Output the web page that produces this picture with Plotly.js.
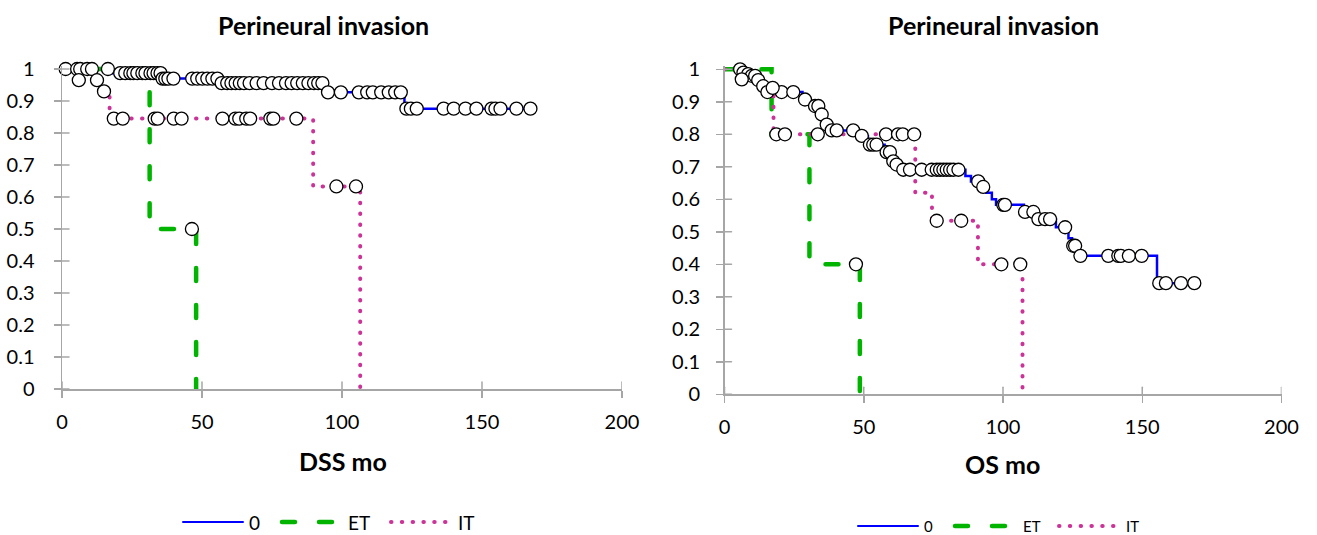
<!DOCTYPE html>
<html>
<head>
<meta charset="utf-8">
<script src="https://cdn.plot.ly/plotly-3.0.1.min.js"></script>
<style>
  html, body { margin: 0; padding: 0; background: #fff; }
  #chart { width: 1317px; height: 535px; }
  .js-line { stroke-linecap: round; }
  .shapelayer path { stroke-linecap: round; }
</style>
</head>
<body>
<div id="chart"></div>
<script>
// ---------- labels ----------
const chartTitle = 'Perineural invasion';
const xTitleLeft = 'DSS mo';
const xTitleRight = 'OS mo';
const groupNames = ['0', 'ET', 'IT'];
const xTicks = [0, 50, 100, 150, 200];
const yTicks = [0, 0.1, 0.2, 0.3, 0.4, 0.5, 0.6, 0.7, 0.8, 0.9, 1];
const yTickText = ['0', '0.1', '0.2', '0.3', '0.4', '0.5', '0.6', '0.7', '0.8', '0.9', '1'];

// ---------- DSS (left) ----------
const dss0Time = [0, 17.5, 35.5, 56.5, 94, 122.3, 167.3];
const dss0Surv = [1, 0.987, 0.97, 0.956, 0.927, 0.876, 0.876];
const dss0Cens = [1.3, 5.4, 6.5, 9, 10.7, 16.4,
  20.8, 22.6, 24.4, 25.5, 26.9, 28.7, 29.8, 31.6, 32.7, 34.1, 35.2,
  35.9, 36.9, 38.0, 39.8, 46.5, 48.3, 50.1, 51.9, 53.7, 55.5,
  57, 59, 60.5, 62, 63.5, 65, 67, 69.5, 72, 75, 77.5, 80, 82, 84, 86, 88, 90, 91.5, 93,
  95, 99.6, 106, 109, 111, 114, 116.7, 119, 121,
  123, 124.6, 126.7, 136.3, 139.9, 144.1, 148, 153.4, 154.8, 156.6, 162.3, 167.3];

const dssETTime = [0, 31.3, 47.9];
const dssETSurv = [1, 0.5, 0];
const dssETCens = [46.4];

const dssITTime = [0, 5, 13.5, 17, 89.7, 106.5];
const dssITSurv = [1, 0.965, 0.93, 0.845, 0.633, 0];
const dssITCens = [6, 12.5, 15, 18.5, 21.7, 33.1, 34.2, 39.9, 42.7, 57.3, 61.9, 63.3, 65.8, 67.2, 74.4, 75.5, 83.7, 98, 105];

// ---------- OS (right) ----------
const os0Time = [0, 6, 8, 9.5, 11.5, 13.5, 15, 28, 31, 34.5, 36.3, 38, 48, 51.5, 57.5, 60.2, 61.4, 63.5,
  86.5, 88.5, 92.5, 94, 96, 97.5, 107.5, 112.3, 119, 123.5, 124.8, 127.3, 155.3, 168.7];
const os0Surv = [1, 0.99, 0.985, 0.98, 0.967, 0.948, 0.93, 0.907, 0.887, 0.861, 0.83, 0.812, 0.795, 0.768, 0.745, 0.717, 0.707, 0.691,
  0.672, 0.655, 0.638, 0.62, 0.6, 0.583, 0.561, 0.539, 0.514, 0.48, 0.457, 0.426, 0.342, 0.342];
const os0Cens = [5.6, 6.8, 8.5, 9.8, 11, 12.1, 13.9, 15.4, 20.5, 24.7, 28.9, 32.5, 33.7, 34.9, 36.7, 38.5, 40.3, 46.2,
  49.3, 52.2, 53.4, 54.6, 58.2, 59.4, 60.6, 61.8, 64.2, 66.6, 70.8, 74.4, 76.2, 77.4, 78.6, 79.8, 81, 82.2, 84,
  91.1, 92.9, 100.1, 100.7, 107.9, 110.9, 112.7, 115.1, 116.9, 122.3, 125.2, 125.9, 127.8,
  137.8, 141.4, 142.3, 145.2, 149.8, 156.1, 158.5, 163.9, 168.7];

const osETTime = [0, 16.9, 30.5, 48.6];
const osETSurv = [1, 0.8, 0.4, 0];
const osETCens = [47.2];

const osITTime = [0, 5.5, 12.5, 17.6, 68.5, 74.5, 91, 107];
const osITSurv = [1, 0.969, 0.943, 0.8, 0.62, 0.534, 0.4, 0];
const osITCens = [6.2, 17.3, 18.6, 21.7, 33.5, 58, 62.3, 64, 68.1, 76.2, 85, 99.4, 106.2];

// ---------- styling ----------
const colors = ['#0000FF', '#00B400', '#CC3399'];
const lineWidths = [2.5, 4.5, 4];
const dashes = ['solid', '13px,24px', '0.5px,10.3px'];
const axisGray = '#A6A6A6';
const FONT = 'Lato, "Open Sans", sans-serif';
const W = 1317, H = 535;
const px = v => v / W;
const py = v => (H - v) / H;

function survAt(times, surv, t) {
  let v = surv[0];
  for (let i = 0; i < times.length; i++) if (times[i] <= t) v = surv[i];
  return v;
}

const traces = [];
function addGroup(times, surv, cens, gi, xa, ya) {
  traces.push({
    type: 'scatter', mode: 'lines', x: times, y: surv, xaxis: xa, yaxis: ya,
    line: { shape: 'hv', color: colors[gi], width: lineWidths[gi], dash: dashes[gi] },
    name: groupNames[gi], showlegend: false, hoverinfo: 'skip'
  });
}
function addCens(times, surv, cens, gi, xa, ya) {
  traces.push({
    type: 'scatter', mode: 'markers', x: cens, y: cens.map(t => survAt(times, surv, t)),
    xaxis: xa, yaxis: ya, cliponaxis: false,
    marker: { symbol: 'circle', size: 13, color: '#FFFFFF', line: { color: '#000000', width: 1.3 } },
    name: groupNames[gi] + ' censored', showlegend: false, hoverinfo: 'skip'
  });
}
const left = [[dss0Time, dss0Surv, dss0Cens], [dssETTime, dssETSurv, dssETCens], [dssITTime, dssITSurv, dssITCens]];
const right = [[os0Time, os0Surv, os0Cens], [osETTime, osETSurv, osETCens], [osITTime, osITSurv, osITCens]];
left.forEach((g, i) => addGroup(g[0], g[1], g[2], i, 'x', 'y'));
right.forEach((g, i) => addGroup(g[0], g[1], g[2], i, 'x2', 'y2'));
left.forEach((g, i) => addCens(g[0], g[1], g[2], i, 'x', 'y'));
right.forEach((g, i) => addCens(g[0], g[1], g[2], i, 'x2', 'y2'));

function xAxis(domain, anchor) {
  return {
    domain: domain, anchor: anchor, range: [0, 200], tickmode: 'array', tickvals: xTicks,
    ticktext: xTicks.map(String), ticks: 'outside', ticklen: 7, tickwidth: 1.5, tickcolor: axisGray,
    showline: true, linecolor: axisGray, linewidth: 1.5, showgrid: false, zeroline: false,
    tickfont: { family: FONT, size: 20, color: '#000' }, ticklabelstandoff: 7, fixedrange: true
  };
}
function yAxis(domain, anchor, standoff) {
  return {
    domain: domain, anchor: anchor, range: [0, 1.01], tickmode: 'array', tickvals: yTicks,
    ticktext: yTickText, ticks: 'outside', ticklen: 7, tickwidth: 1.5, tickcolor: axisGray,
    showline: true, linecolor: axisGray, linewidth: 1.5, showgrid: false, zeroline: false,
    tickfont: { family: FONT, size: 20, color: '#000' }, ticklabelstandoff: standoff, fixedrange: true
  };
}

// inner half of the cross tick marks
const shapes = [];
[['x', 'y'], ['x2', 'y2']].forEach(([xa, ya]) => {
  xTicks.forEach(t => shapes.push({ type: 'line', xref: xa, yref: ya, x0: t, x1: t,
    ysizemode: 'pixel', yanchor: 0, y0: 0, y1: 7, line: { color: axisGray, width: 1.5 } }));
  yTicks.forEach(v => shapes.push({ type: 'line', xref: xa, yref: ya, y0: v, y1: v,
    xsizemode: 'pixel', xanchor: 0, x0: 0, x1: 7, line: { color: axisGray, width: 1.5 } }));
});

// manual legends
const annotations = [];
function legend(items, yPix, fontSize) {
  items.forEach((it, gi) => {
    shapes.push({ type: 'line', xref: 'paper', yref: 'paper', x0: px(it[0]), x1: px(it[1]),
      y0: py(yPix), y1: py(yPix), line: { color: colors[gi], width: gi === 0 ? 2 : lineWidths[gi], dash: dashes[gi] } });
    annotations.push({ xref: 'paper', yref: 'paper', x: px(it[2]), y: py(yPix), xanchor: 'left', yanchor: 'middle',
      text: groupNames[gi], showarrow: false, font: { family: FONT, size: fontSize, color: '#000' } });
  });
}
legend([[183, 243, 247], [282, 337, 346], [391, 447, 456]], 522, 19);
legend([[858, 918, 922], [955, 1010, 1021], [1059, 1115, 1124]], 526, 15);

function text(x, y, s, size) {
  annotations.push({ xref: 'paper', yref: 'paper', x: px(x), y: py(y), xanchor: 'center', yanchor: 'middle',
    text: '<b>' + s + '</b>', showarrow: false, font: { family: FONT, size: size, color: '#000' } });
}
text(323, 25, chartTitle, 25);
text(994, 25, chartTitle, 25);
text(343, 461, xTitleLeft, 25);
text(1002, 464, xTitleRight, 25);

const layout = {
  width: W, height: H, autosize: false,
  margin: { l: 0, r: 0, t: 0, b: 0 },
  paper_bgcolor: '#fff', plot_bgcolor: '#fff', showlegend: false,
  xaxis: xAxis([px(62), px(622)], 'y'),
  yaxis: yAxis([py(389), py(65.8)], 'x', 15),
  xaxis2: xAxis([px(724.5), px(1281.5)], 'y2'),
  yaxis2: yAxis([py(394.3), py(66.05)], 'x2', 12),
  shapes: shapes, annotations: annotations
};

Plotly.newPlot('chart', traces, layout, { staticPlot: true, displayModeBar: false });
</script>
</body>
</html>
